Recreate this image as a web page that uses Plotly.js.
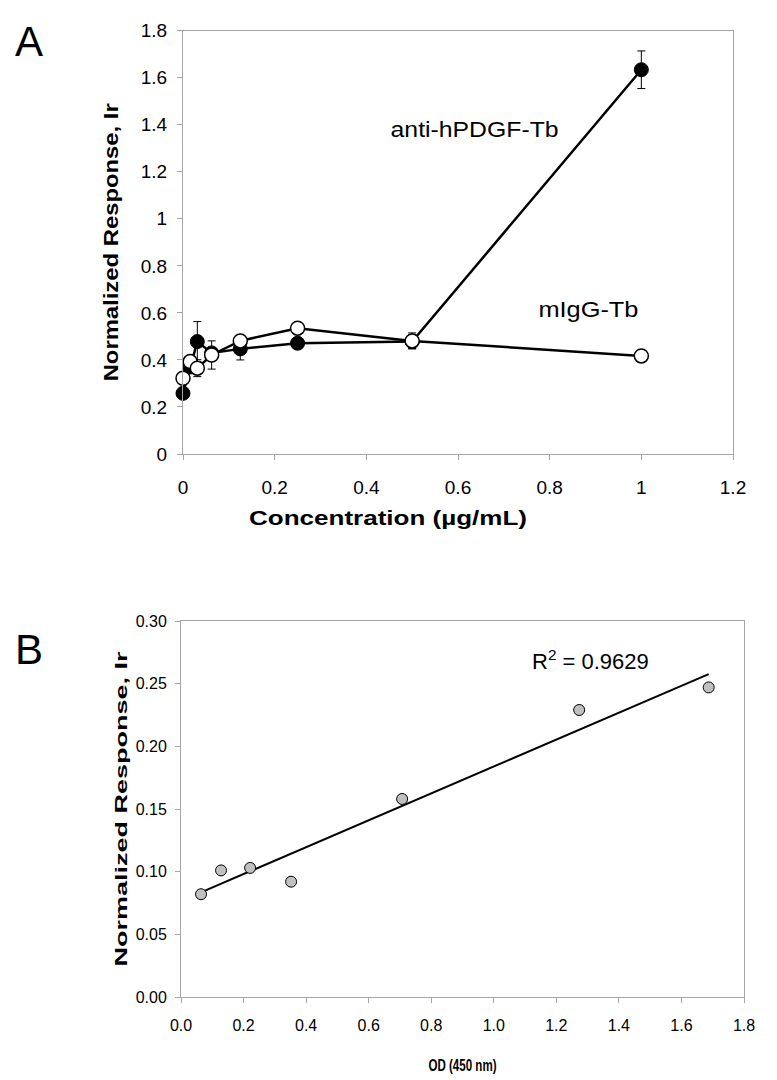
<!DOCTYPE html>
<html>
<head>
<meta charset="utf-8">
<script src="https://cdn.plot.ly/plotly-3.0.1.min.js"></script>
<style>html,body{margin:0;padding:0;background:#fff;}#chart{width:777px;height:1080px;}</style>
</head>
<body>
<div id="chart"></div>
<script>
// Panel A data
const concentration = [0, 0.0156, 0.03125, 0.0625, 0.125, 0.25, 0.5, 1];
const pdgfResponse = [0.258, 0.37, 0.478, 0.43, 0.447, 0.471, 0.478, 1.634];
const pdgfError = [0.02, 0.02, 0.085, 0.02, 0.047, 0.02, 0.03, 0.08];
const iggResponse = [0.322, 0.393, 0.365, 0.421, 0.481, 0.535, 0.481, 0.417];
const iggError = [0.04, 0.02, 0.036, 0.06, 0.02, 0.02, 0.034, 0.01];
const ticksA_x = [0, 0.2, 0.4, 0.6, 0.8, 1, 1.2];
const ticksA_y = [0, 0.2, 0.4, 0.6, 0.8, 1, 1.2, 1.4, 1.6, 1.8];

// Panel B data
const od450 = [0.064, 0.128, 0.221, 0.352, 0.707, 1.273, 1.687];
const irB = [0.082, 0.101, 0.103, 0.092, 0.158, 0.229, 0.247];
const r2Label = 'R<sup>2</sup> = 0.9629';

// least-squares fit for trend line
const n = od450.length;
const mx = od450.reduce((a,b)=>a+b,0)/n;
const my = irB.reduce((a,b)=>a+b,0)/n;
let sxy = 0, sxx = 0;
for (let i=0;i<n;i++){ sxy += (od450[i]-mx)*(irB[i]-my); sxx += (od450[i]-mx)**2; }
const slope = sxy/sxx, icpt = my - slope*mx;
const fitX = [Math.min(...od450), Math.max(...od450)];
const fitY = fitX.map(x => icpt + slope*x);

const FONT = 'Liberation Sans, Arial, sans-serif';

const traces = [
  {
    x: concentration, y: pdgfResponse, type: 'scatter', mode: 'lines+markers',
    name: 'anti-hPDGF-Tb', xaxis: 'x', yaxis: 'y', cliponaxis: false,
    line: {color: '#000', width: 2.5},
    marker: {color: '#000', size: 14, line: {color: '#000', width: 1}},
    error_y: {type: 'data', array: pdgfError, visible: true, color: '#000', thickness: 1, width: 4}
  },
  {
    x: concentration, y: iggResponse, type: 'scatter', mode: 'lines+markers',
    name: 'mIgG-Tb', xaxis: 'x', yaxis: 'y', cliponaxis: false,
    line: {color: '#000', width: 2.5},
    marker: {color: '#fff', size: 14, line: {color: '#000', width: 1.5}},
    error_y: {type: 'data', array: iggError, visible: true, color: '#000', thickness: 1, width: 4}
  },
  {
    x: fitX, y: fitY, type: 'scatter', mode: 'lines', name: 'fit',
    xaxis: 'x2', yaxis: 'y2', line: {color: '#000', width: 2}
  },
  {
    x: od450, y: irB, type: 'scatter', mode: 'markers', name: 'data',
    xaxis: 'x2', yaxis: 'y2', cliponaxis: false,
    marker: {color: '#c0c0c0', size: 11, line: {color: '#000', width: 1}}
  }
];

const axCommon = {
  showgrid: false, zeroline: false, showline: true, mirror: true,
  linecolor: '#a6a6a6', linewidth: 1, ticks: 'outside', ticklen: 5,
  tickcolor: '#a6a6a6', tickwidth: 1, automargin: false
};

const layout = {
  width: 777, height: 1080,
  margin: {l: 0, r: 0, t: 0, b: 0},
  paper_bgcolor: '#fff', plot_bgcolor: '#fff',
  showlegend: false,
  font: {family: FONT, color: '#000'},
  xaxis: Object.assign({}, axCommon, {
    domain: [183/777, 733/777], anchor: 'y', range: [0, 1.2],
    tickvals: ticksA_x, ticktext: ticksA_x.map(String),
    tickfont: {size: 19, family: FONT}, ticklabelstandoff: 11,
    title: {text: 'Concentration (µg/mL)', font: {size: 21, family: FONT, weight: 'bold'}, standoff: 13}
  }),
  yaxis: Object.assign({}, axCommon, {
    domain: [(1080-454)/1080, (1080-30.7)/1080], anchor: 'x', range: [0, 1.8],
    tickvals: ticksA_y, ticktext: ticksA_y.map(String),
    tickfont: {size: 19, family: FONT}, ticklabelstandoff: 6,
    title: {text: 'Normalized Response, Ir', font: {size: 21, family: FONT, weight: 'bold'}, standoff: 16}
  }),
  xaxis2: Object.assign({}, axCommon, {
    domain: [181/777, 744/777], anchor: 'y2', range: [0, 1.8],
    dtick: 0.2, tickformat: '.1f',
    tickfont: {size: 16, family: FONT}, ticklabelstandoff: 9,
    title: {text: 'OD (450 nm)', font: {size: 16, family: FONT, weight: 'bold'}, standoff: 26}
  }),
  yaxis2: Object.assign({}, axCommon, {
    domain: [(1080-997)/1080, (1080-621)/1080], anchor: 'x2', range: [0, 0.30],
    dtick: 0.05, tickformat: '.2f',
    tickfont: {size: 16, family: FONT}, ticklabelstandoff: 5,
    title: {text: 'Normalized Response, Ir', font: {size: 16, family: FONT, weight: 'bold'}, standoff: 4}
  }),
  annotations: [
    {text: 'A', xref: 'paper', yref: 'paper', x: 29/777, y: 1 - 41/1080, showarrow: false,
     font: {size: 42, family: FONT}, xanchor: 'center', yanchor: 'middle'},
    {text: 'B', xref: 'paper', yref: 'paper', x: 29/777, y: 1 - 649/1080, showarrow: false,
     font: {size: 42, family: FONT}, xanchor: 'center', yanchor: 'middle'},
    {text: 'anti-hPDGF-Tb', xref: 'x', yref: 'y', x: 0.635, y: 1.38, showarrow: false,
     font: {size: 22, family: FONT}, xanchor: 'center', yanchor: 'middle'},
    {text: 'mIgG-Tb', xref: 'x', yref: 'y', x: 0.885, y: 0.615, showarrow: false,
     font: {size: 22, family: FONT}, xanchor: 'center', yanchor: 'middle'},
    {text: r2Label, xref: 'x2', yref: 'y2', x: 1.31, y: 0.269, showarrow: false,
     font: {size: 22, family: FONT}, xanchor: 'center', yanchor: 'middle'}
  ]
};

function stretch(el, len) {
  if (!el) return;
  el.setAttribute('textLength', len);
  el.setAttribute('lengthAdjust', 'spacingAndGlyphs');
}

Plotly.newPlot('chart', traces, layout, {displayModeBar: false, staticPlot: true}).then(() => {
  const xt = document.querySelector('.g-xtitle text');
  if (xt) { xt.setAttribute('x', 388); stretch(xt, 278); }
  stretch(document.querySelector('.g-ytitle text'), 278);
  stretch(document.querySelector('.g-y2title text'), 315);
  stretch(document.querySelector('.g-x2title text'), 68);
  const ann = document.querySelectorAll('.annotation-text');
  ann.forEach(a => {
    const t = a.textContent;
    if (t === 'anti-hPDGF-Tb') stretch(a, 168);
    if (t === 'mIgG-Tb') stretch(a, 100);
  });
});
</script>
</body>
</html>
